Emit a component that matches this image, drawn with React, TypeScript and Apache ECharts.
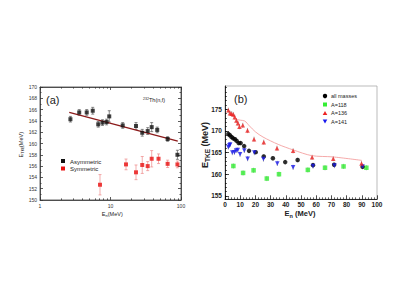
import React, { useEffect, useRef } from "react";
import * as echarts from "echarts";

// Panel (a): 232Th(n,f), log x
const aAsymX = [2.7, 3.6, 4.6, 5.6, 6.7, 7.7, 8.8, 9.6, 14.9, 23, 28.2, 33.7, 38.4, 46, 64.6, 89];
const aAsymY = [164.3, 165.5, 165.5, 165.8, 163.4, 163.7, 163.8, 164.8, 163.2, 163.1, 161.9, 162.2, 162.9, 162.4, 160.8, 158.0];
const aAsymErr = [0.5, 0.5, 0.5, 0.6, 0.5, 0.5, 0.5, 1.0, 0.5, 0.6, 0.6, 0.6, 0.8, 0.5, 0.4, 0.8];
const aSymX = [7.1, 16.6, 23, 28.2, 33.7, 38.4, 48, 64.6, 89];
const aSymY = [152.7, 156.3, 154.9, 156.2, 156.0, 157.3, 157.3, 156.4, 156.3];
const aSymErr = [1.8, 0.95, 1.3, 1.5, 0.8, 1.45, 0.85, 0.65, 0.6];
const aFitX = [2.6, 90];
const aFitY = [165.5, 160.4];
const aXMinor = [2, 3, 4, 5, 6, 7, 8, 9, 20, 30, 40, 50, 60, 70, 80, 90];

// Panel (b)
const bAllX = [2.2, 3.2, 4.3, 5.4, 6.6, 7.7, 9.0, 10.3, 12.6, 15.8, 20.2, 25.5, 31.5, 39.6, 47.8, 57.9, 71.8, 90.5];
const bAllY = [169.3, 169.0, 168.6, 168.3, 168.1, 167.7, 167.2, 167.2, 166.5, 165.4, 165.1, 164.1, 163.7, 162.8, 163.3, 162.1, 162.2, 161.7];
const b118X = [5.5, 11.9, 18.8, 27.5, 35.5, 54.5, 65.8, 78.0, 93.0];
const b118Y = [161.9, 160.3, 160.9, 159.0, 160.0, 161.0, 161.5, 161.8, 161.5];
const b136X = [2.2, 3.3, 4.4, 5.5, 6.4, 7.5, 8.5, 9.5, 11.7, 14.8, 19.1, 25.5, 34.2, 44.8, 57.3, 71.2, 89.8];
const b136Y = [174.8, 174.1, 174.0, 173.8, 173.2, 172.4, 171.8, 171.0, 171.3, 170.1, 168.1, 167.4, 166.0, 165.4, 163.9, 163.6, 162.5];
const b141X = [2.2, 2.9, 3.4, 4.8, 6.2, 7.3, 8.4, 9.9, 12.7, 14.9, 19.3, 25.3, 34.4, 44.8, 57.9, 72.0, 90.5];
const b141Y = [166.3, 166.7, 166.9, 165.0, 165.1, 165.5, 165.6, 164.6, 165.5, 163.6, 165.0, 163.5, 162.5, 161.6, 161.9, 162.0, 161.8];
const bLineX = [2, 4, 7, 10, 13, 16, 20, 25, 35, 45, 57, 71, 90];
const bLineY = [174.9, 174.0, 172.8, 172.5, 172.3, 171.2, 169.8, 168.6, 166.9, 165.6, 164.3, 164.0, 163.2];
const bYLabels = [155, 160, 165, 170, 175];
const bYMinor = [155, 156, 157, 158, 159, 160, 161, 162, 163, 164, 165, 166, 167, 168, 169, 170, 171, 172, 173, 174, 175, 176, 177, 178, 179, 180];

const FONT = "'Liberation Sans', Arial, sans-serif";

const zip = (xs: number[], ys: number[]) => xs.map((x, i) => [x, ys[i]]);
const errData = (xs: number[], ys: number[], e: number[] | number) =>
  xs.map((x, i) => {
    const d = typeof e === "number" ? e : e[i];
    return [x, ys[i] - d, ys[i] + d];
  });

function errSeries(xi: number, yi: number, data: number[][], color: string, cap: number) {
  return {
    type: "custom",
    xAxisIndex: xi,
    yAxisIndex: yi,
    silent: true,
    z: 1,
    data,
    encode: { x: 0, y: [1, 2] },
    renderItem: (params: any, api: any) => {
      const x = api.value(0);
      const p1 = api.coord([x, api.value(1)]);
      const p2 = api.coord([x, api.value(2)]);
      const st = { stroke: color, lineWidth: 0.7 };
      return {
        type: "group",
        children: [
          { type: "line", shape: { x1: p1[0], y1: p1[1], x2: p2[0], y2: p2[1] }, style: st },
          { type: "line", shape: { x1: p1[0] - cap, y1: p1[1], x2: p1[0] + cap, y2: p1[1] }, style: st },
          { type: "line", shape: { x1: p2[0] - cap, y1: p2[1], x2: p2[0] + cap, y2: p2[1] }, style: st },
        ],
      };
    },
  };
}

// Text with a subscript built from separate pieces: [main, sub, rest]
function subLabel(cx: number, cy: number, rot: number, main: string, sub: string, rest: string, size: number, subSize: number, bold: boolean, widths: number[]) {
  const total = widths[0] + widths[1] + widths[2];
  const x0 = -total / 2;
  const base = { fontFamily: FONT, fill: "#222", fontWeight: bold ? "bold" : "normal", verticalAlign: "middle" };
  return {
    type: "group",
    x: cx,
    y: cy,
    rotation: rot,
    children: [
      { type: "text", x: x0, y: 0, style: { ...base, text: main, fontSize: size } },
      { type: "text", x: x0 + widths[0], y: size * 0.3, style: { ...base, text: sub, fontSize: subSize } },
      { type: "text", x: x0 + widths[0] + widths[1], y: 0, style: { ...base, text: rest, fontSize: size } },
    ],
  };
}

export default function App() {
  const ref = useRef<HTMLDivElement>(null);
  useEffect(() => {
    if (!ref.current) return;
    const chart = echarts.init(ref.current, undefined, { renderer: "svg" });
    const axA = { color: "#333", width: 0.8 };
    const yMinB = 154.2;
    const yMaxB = 180.4;
    const option: any = {
      animation: false,
      backgroundColor: "#fff",
      textStyle: { fontFamily: FONT },
      grid: [
        { left: 40, top: 87, width: 141, height: 113, show: true, borderColor: "#444", borderWidth: 0.8, backgroundColor: "transparent" },
        { left: 225, top: 86, width: 152, height: 113.3, show: true, borderColor: "#aaa", borderWidth: 0.8, backgroundColor: "transparent" },
      ],
      xAxis: [
        {
          gridIndex: 0, type: "log", logBase: 10, min: 1, max: 100,
          axisLine: { lineStyle: axA }, axisTick: { inside: true, length: 3, lineStyle: axA },
          axisLabel: { fontSize: 5, color: "#333", margin: 3, fontFamily: FONT }, splitLine: { show: false },
        },
        {
          gridIndex: 0, type: "log", logBase: 10, min: 1, max: 100, position: "top",
          axisLine: { lineStyle: axA }, axisTick: { inside: true, length: 3, lineStyle: axA },
          axisLabel: { show: false }, splitLine: { show: false },
        },
        {
          gridIndex: 1, type: "value", min: 0, max: 100, interval: 10,
          axisLine: { lineStyle: { color: "#000", width: 0.8 } },
          axisTick: { inside: true, length: 4, lineStyle: { color: "#000", width: 0.7 } },
          minorTick: { show: true, splitNumber: 5, length: 2, lineStyle: { color: "#000", width: 0.6 } },
          axisLabel: { fontSize: 6.5, fontWeight: "bold", color: "#222", margin: 1.5, fontFamily: FONT },
          splitLine: { show: false }, minorSplitLine: { show: false },
        },
        {
          gridIndex: 0, type: "log", logBase: 10, min: 1, max: 100, position: "bottom",
          axisLine: { show: false }, axisTick: { inside: true, length: 1.6, customValues: aXMinor, lineStyle: axA },
          axisLabel: { show: false }, splitLine: { show: false },
        },
        {
          gridIndex: 0, type: "log", logBase: 10, min: 1, max: 100, position: "top",
          axisLine: { show: false }, axisTick: { inside: true, length: 1.6, customValues: aXMinor, lineStyle: axA },
          axisLabel: { show: false }, splitLine: { show: false },
        },
      ],
      yAxis: [
        {
          gridIndex: 0, type: "value", min: 150, max: 170, interval: 2, position: "left",
          axisLine: { show: true, lineStyle: axA }, axisTick: { inside: true, length: 3, lineStyle: axA },
          minorTick: { show: true, splitNumber: 2, length: 1.5, lineStyle: axA },
          axisLabel: { fontSize: 5, color: "#333", margin: 3, fontFamily: FONT }, splitLine: { show: false },
        },
        {
          gridIndex: 0, type: "value", min: 150, max: 170, interval: 2, position: "right",
          axisLine: { show: true, lineStyle: axA }, axisTick: { inside: true, length: 3, lineStyle: axA },
          minorTick: { show: true, splitNumber: 2, length: 1.5, lineStyle: axA },
          axisLabel: { show: false }, splitLine: { show: false },
        },
        {
          gridIndex: 1, type: "value", min: yMinB, max: yMaxB, position: "left",
          axisLine: { show: true, lineStyle: { color: "#000", width: 0.8 } },
          axisTick: { inside: true, length: 4, customValues: bYLabels, lineStyle: { color: "#000", width: 0.7 } },
          axisLabel: { customValues: bYLabels, fontSize: 6.5, fontWeight: "bold", color: "#222", margin: 3, fontFamily: FONT },
          splitLine: { show: false },
        },
        {
          gridIndex: 1, type: "value", min: yMinB, max: yMaxB, position: "left", offset: 0,
          axisLine: { show: false },
          axisTick: { inside: true, length: 2, customValues: bYMinor, lineStyle: { color: "#000", width: 0.6 } },
          axisLabel: { show: false }, splitLine: { show: false },
        },
      ],
      series: [
        {
          type: "line", xAxisIndex: 0, yAxisIndex: 0, data: zip(aFitX, aFitY), symbol: "none",
          lineStyle: { color: "#8b1a1a", width: 1.3 }, z: 2,
        },
        errSeries(0, 0, errData(aAsymX, aAsymY, aAsymErr), "#555", 1.5),
        errSeries(0, 0, errData(aSymX, aSymY, aSymErr), "#e88", 1.5),
        {
          type: "scatter", xAxisIndex: 0, yAxisIndex: 0, data: zip(aAsymX, aAsymY), symbol: "rect",
          symbolSize: 4, itemStyle: { color: "#111" }, z: 3,
        },
        {
          type: "scatter", xAxisIndex: 0, yAxisIndex: 0, data: zip(aSymX, aSymY), symbol: "rect",
          symbolSize: 4, itemStyle: { color: "#e81010" }, z: 3,
        },
        {
          type: "line", xAxisIndex: 2, yAxisIndex: 2, data: zip(bLineX, bLineY), symbol: "none", smooth: 0.3,
          lineStyle: { color: "#f4a0a0", width: 0.9 }, z: 2,
        },
        errSeries(2, 2, errData(bAllX, bAllY, 0.5), "#888", 0),
        errSeries(2, 2, errData(b118X, b118Y, 0.6), "#999", 0),
        errSeries(2, 2, errData(b136X, b136Y, 0.6), "#999", 0),
        errSeries(2, 2, errData(b141X, b141Y, 0.6), "#888", 0),
        {
          type: "scatter", xAxisIndex: 2, yAxisIndex: 2, data: zip(b118X, b118Y), symbol: "rect",
          symbolSize: 4.5, itemStyle: { color: "#33ee33" }, z: 3,
        },
        {
          type: "scatter", xAxisIndex: 2, yAxisIndex: 2, data: zip(bAllX, bAllY), symbol: "circle",
          symbolSize: 4.5, itemStyle: { color: "#000" }, z: 3,
        },
        {
          type: "scatter", xAxisIndex: 2, yAxisIndex: 2, data: zip(b141X, b141Y), symbol: "triangle",
          symbolRotate: 180, symbolSize: 4.5, itemStyle: { color: "#1a1aee" }, z: 3,
        },
        {
          type: "scatter", xAxisIndex: 2, yAxisIndex: 2, data: zip(b136X, b136Y), symbol: "triangle",
          symbolSize: 4.5, itemStyle: { color: "#ee2222" }, z: 3,
        },
      ],
      graphic: [
        { type: "text", x: 46, y: 100, style: { text: "(a)", fontSize: 11, fill: "#222", fontFamily: FONT, verticalAlign: "middle" } },
        { type: "text", x: 143, y: 98.5, style: { text: "232", fontSize: 3.5, fill: "#222", fontFamily: FONT, verticalAlign: "middle" } },
        { type: "text", x: 149, y: 100, style: { text: "Th(n,f)", fontSize: 5.5, fill: "#222", fontFamily: FONT, verticalAlign: "middle" } },
        { type: "rect", shape: { x: 61, y: 159, width: 4, height: 4 }, style: { fill: "#111" } },
        { type: "text", x: 70, y: 161.5, style: { text: "Asymmetric", fontSize: 6, fill: "#222", fontFamily: FONT, verticalAlign: "middle" } },
        { type: "rect", shape: { x: 61, y: 166.5, width: 4, height: 4 }, style: { fill: "#e81010" } },
        { type: "text", x: 70, y: 169, style: { text: "Symmetric", fontSize: 6, fill: "#222", fontFamily: FONT, verticalAlign: "middle" } },
        subLabel(21, 145, Math.PI / 2, "E", "TKE", "(MeV)", 5.5, 4, false, [3.7, 6.8, 14.5]),
        subLabel(112, 213.5, 0, "E", "n", "(MeV)", 5.5, 4, false, [3.7, 2.3, 14.5]),
        { type: "text", x: 234, y: 99, style: { text: "(b)", fontSize: 11, fill: "#222", fontFamily: FONT, verticalAlign: "middle" } },
        { type: "circle", shape: { cx: 325, cy: 96, r: 2.2 }, style: { fill: "#000" } },
        { type: "text", x: 331, y: 96, style: { text: "all masses", fontSize: 5.5, fill: "#222", fontFamily: FONT, verticalAlign: "middle" } },
        { type: "rect", shape: { x: 323, y: 102.5, width: 4, height: 4 }, style: { fill: "#33ee33" } },
        { type: "text", x: 331, y: 104.5, style: { text: "A=118", fontSize: 5.5, fill: "#222", fontFamily: FONT, verticalAlign: "middle" } },
        { type: "polygon", shape: { points: [[325, 111], [327.3, 115], [322.7, 115]] }, style: { fill: "#ee2222" } },
        { type: "text", x: 331, y: 113, style: { text: "A=136", fontSize: 5.5, fill: "#222", fontFamily: FONT, verticalAlign: "middle" } },
        { type: "polygon", shape: { points: [[322.7, 119.5], [327.3, 119.5], [325, 123.5]] }, style: { fill: "#1a1aee" } },
        { type: "text", x: 331, y: 121.5, style: { text: "A=141", fontSize: 5.5, fill: "#222", fontFamily: FONT, verticalAlign: "middle" } },
        subLabel(205, 145, Math.PI / 2, "E", "TKE", " (MeV)", 9, 6.5, true, [6, 13, 27]),
        subLabel(300, 213.3, 0, "E", "n", " (MeV)", 7.5, 5.5, true, [5, 3.4, 22.5]),
      ],
    };
    chart.setOption(option);
    return () => chart.dispose();
  }, []);
  return <div ref={ref} style={{ position: "absolute", left: 0, top: 0, width: 400, height: 300 }} />;
}
